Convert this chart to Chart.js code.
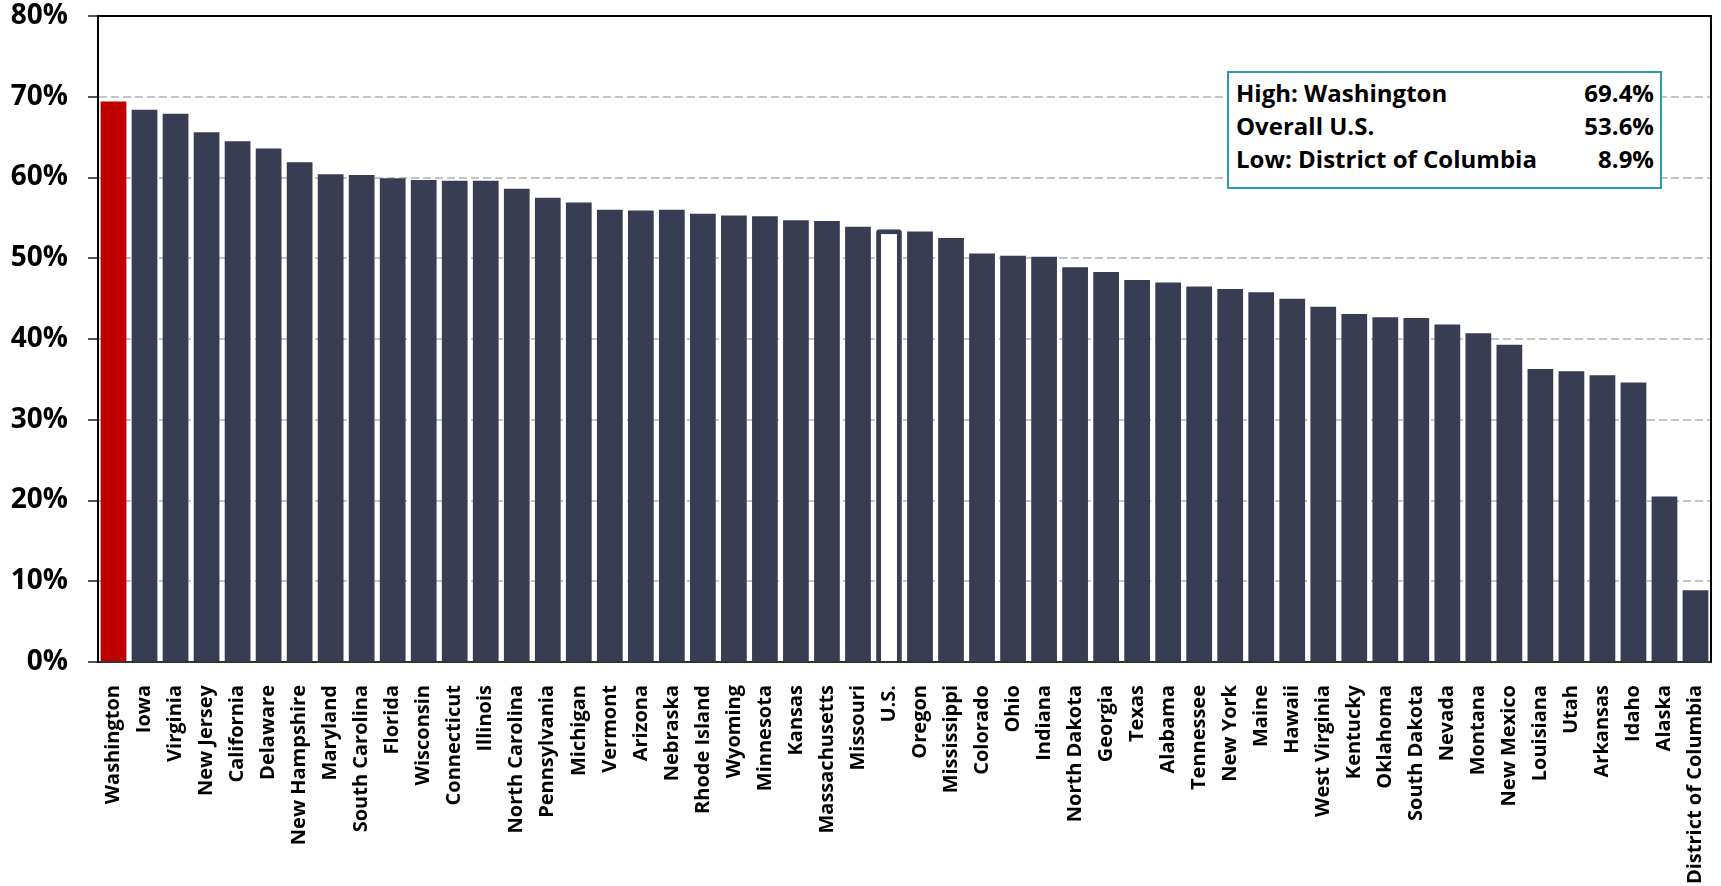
<!DOCTYPE html>
<html>
<head>
<meta charset="utf-8">
<script src="https://cdn.jsdelivr.net/npm/chart.js@4"></script>
<style>
  body { margin: 0; background: #fff; }
  #wrap { position: relative; width: 1721px; height: 886px; }
  #summary {
    position: absolute; left: 1227px; top: 71px; width: 418px; height: 111px;
    border: 2px solid #2f9aab; background: #fff;
    padding: 3px 6px 0 7px;
    font: bold 24px 'Open Sans', sans-serif; line-height: 33px; color: #000;
  }
  #summary .row { display: flex; justify-content: space-between; }
</style>
</head>
<body>
<div id="wrap">
  <canvas id="grafico"></canvas>
  <div id="summary"></div>
</div>
<script>
const estados = [
  'Washington', 'Iowa', 'Virginia', 'New Jersey', 'California', 'Delaware',
  'New Hampshire', 'Maryland', 'South Carolina', 'Florida', 'Wisconsin',
  'Connecticut', 'Illinois', 'North Carolina', 'Pennsylvania', 'Michigan',
  'Vermont', 'Arizona', 'Nebraska', 'Rhode Island', 'Wyoming', 'Minnesota',
  'Kansas', 'Massachusetts', 'Missouri', 'U.S.', 'Oregon', 'Mississippi',
  'Colorado', 'Ohio', 'Indiana', 'North Dakota', 'Georgia', 'Texas', 'Alabama',
  'Tennessee', 'New York', 'Maine', 'Hawaii', 'West Virginia', 'Kentucky',
  'Oklahoma', 'South Dakota', 'Nevada', 'Montana', 'New Mexico', 'Louisiana',
  'Utah', 'Arkansas', 'Idaho', 'Alaska', 'District of Columbia'
];

const percentuais = [
  69.4, 68.4, 67.9, 65.6, 64.5, 63.6,
  61.9, 60.4, 60.3, 59.9, 59.7,
  59.6, 59.6, 58.6, 57.5, 56.9,
  56.0, 55.9, 56.0, 55.5, 55.3, 55.2,
  54.7, 54.6, 53.9, 53.6, 53.3, 52.5,
  50.6, 50.3, 50.2, 48.9, 48.3, 47.3, 47.0,
  46.5, 46.2, 45.8, 45.0, 44.0, 43.1,
  42.7, 42.6, 41.8, 40.7, 39.3, 36.3,
  36.0, 35.5, 34.6, 20.5, 8.9
];

const ticksY = [0, 10, 20, 30, 40, 50, 60, 70, 80];

const destaqueAlto = 'Washington';
const totalPais = 'U.S.';
const destaqueBaixo = 'District of Columbia';

const corBarra = '#383d54';
const corAlto = '#c00000';

function valorDe(nome) {
  return percentuais[estados.indexOf(nome)];
}

// caixa de resumo (maior, total, menor)
const linhas = [
  ['High: ' + destaqueAlto, valorDe(destaqueAlto)],
  ['Overall ' + totalPais, valorDe(totalPais)],
  ['Low: ' + destaqueBaixo, valorDe(destaqueBaixo)]
];
document.getElementById('summary').innerHTML = linhas
  .map(l => `<div class="row"><span>${l[0]}</span><span>${l[1].toFixed(1)}%</span></div>`)
  .join('');

// moldura de cima e da direita da área do gráfico
const moldura = {
  id: 'moldura',
  afterDatasetsDraw(chart) {
    const { ctx, chartArea: a } = chart;
    ctx.save();
    ctx.strokeStyle = '#000';
    ctx.lineWidth = 2;
    ctx.beginPath();
    ctx.moveTo(a.left, a.top);
    ctx.lineTo(a.right, a.top);
    ctx.lineTo(a.right, a.bottom);
    ctx.stroke();
    ctx.restore();
  }
};

Chart.defaults.font.family = "'Open Sans', sans-serif";
Chart.defaults.font.weight = 'bold';
Chart.defaults.color = '#000';

const ctx = document.getElementById('grafico').getContext('2d');
new Chart(ctx, {
  type: 'bar',
  data: {
    labels: estados,
    datasets: [{
      data: percentuais,
      backgroundColor: estados.map(e => e === destaqueAlto ? corAlto : (e === totalPais ? '#fff' : corBarra)),
      borderColor: corBarra,
      borderWidth: estados.map(e => e === totalPais ? 5 : 0),
      borderRadius: estados.map(e => e === totalPais ? 3 : 0),
      borderSkipped: 'bottom',
      barPercentage: 0.83,
      categoryPercentage: 1
    }]
  },
  options: {
    responsive: true,
    maintainAspectRatio: false,
    animation: false,
    layout: { padding: { top: 16, right: 10, left: 0, bottom: 0 } },
    plugins: {
      legend: { display: false },
      tooltip: { enabled: false }
    },
    scales: {
      x: {
        grid: { display: false, drawTicks: false },
        border: { display: true, color: '#333', width: 2 },
        ticks: {
          autoSkip: false,
          maxRotation: 90,
          minRotation: 90,
          padding: 23,
          font: { size: 20, weight: 'bold' }
        },
        afterFit(scale) {
          scale.height = 224;
          scale.paddingLeft = 0;
          scale.paddingRight = 0;
        }
      },
      y: {
        min: 0,
        max: 80,
        afterBuildTicks(scale) { scale.ticks = ticksY.map(v => ({ value: v })); },
        grid: {
          color: '#c4c4c4',
          lineWidth: 2,
          tickLength: 10,
          tickColor: '#555',
          tickWidth: 2,
          tickBorderDash: []
        },
        border: { display: true, color: '#000', width: 2, dash: [8, 4] },
        ticks: {
          padding: 20,
          font: { size: 28, weight: 'bold' },
          callback: v => v + '%'
        },
        afterFit(scale) {
          scale.width = 98;
          scale.paddingTop = 0;
          scale.paddingBottom = 0;
        }
      }
    }
  },
  plugins: [moldura]
});
</script>
</body>
</html>
